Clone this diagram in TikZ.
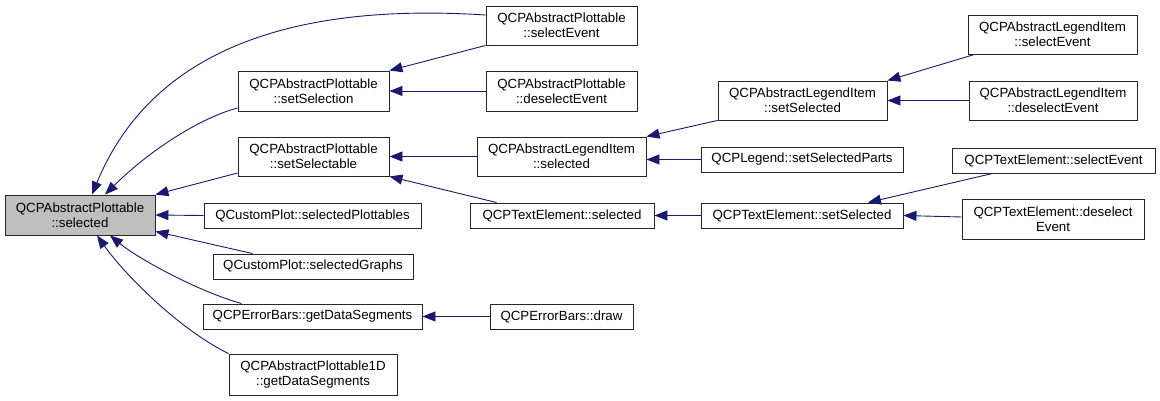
\documentclass[tikz,border=0pt]{standalone}
\usepackage{fontspec}
\setmainfont{Liberation Sans}
\usetikzlibrary{arrows.meta}
\definecolor{edgecol}{HTML}{191970}
\definecolor{maingray}{HTML}{BFBFBF}
\begin{document}
\begin{tikzpicture}[x=1pt,y=-1pt,
  box/.style={draw=black!85,line width=0.9pt,fill=white,rectangle,inner sep=0pt,align=center,
    font=\fontsize{13.3}{15}\selectfont},
  edge/.style={draw=edgecol,line width=0.9pt,-{Triangle[length=13pt,width=10pt]},fill=none}]
\useasboundingbox (0,0) rectangle (1160,401);
% nodes
\node[box,fill=maingray,minimum width=150pt,minimum height=40pt] (main) at (80,215) {QCPAbstractPlottable\\::selected};
\node[box,minimum width=151pt,minimum height=39pt] (apSel) at (561.5,25.5) {QCPAbstractPlottable\\::selectEvent};
\node[box,minimum width=151pt,minimum height=40pt] (setSelection) at (313.5,91) {QCPAbstractPlottable\\::setSelection};
\node[box,minimum width=151pt,minimum height=40pt] (apDesel) at (561.5,91) {QCPAbstractPlottable\\::deselectEvent};
\node[box,minimum width=151pt,minimum height=39pt] (setSelectable) at (313.5,156.5) {QCPAbstractPlottable\\::setSelectable};
\node[box,minimum width=169pt,minimum height=39pt] (liSelected) at (561.5,156.5) {QCPAbstractLegendItem\\::selected};
\node[box,minimum width=217pt,minimum height=25pt] (selPlottables) at (312.5,215.5) {QCustomPlot::selectedPlottables};
\node[box,minimum width=184pt,minimum height=25pt] (teSelected) at (562,215.5) {QCPTextElement::selected};
\node[box,minimum width=200pt,minimum height=25pt] (selGraphs) at (313,266.5) {QCustomPlot::selectedGraphs};
\node[box,minimum width=219pt,minimum height=25pt] (ebGDS) at (312.5,316.5) {QCPErrorBars::getDataSegments};
\node[box,minimum width=143pt,minimum height=25pt] (ebDraw) at (561.5,316.5) {QCPErrorBars::draw};
\node[box,minimum width=168pt,minimum height=41pt] (ap1d) at (313,374.5) {QCPAbstractPlottable1D\\::getDataSegments};
\node[box,minimum width=169pt,minimum height=39pt] (liSetSel) at (802.5,100.5) {QCPAbstractLegendItem\\::setSelected};
\node[box,minimum width=169pt,minimum height=39pt] (liSelEv) at (1052.5,34.5) {QCPAbstractLegendItem\\::selectEvent};
\node[box,minimum width=168pt,minimum height=39pt] (liDesel) at (1053,100.5) {QCPAbstractLegendItem\\::deselectEvent};
\node[box,minimum width=202pt,minimum height=25pt] (legParts) at (802,159.5) {QCPLegend::setSelectedParts};
\node[box,minimum width=203pt,minimum height=25pt] (teSelEv) at (1053.5,160.5) {QCPTextElement::selectEvent};
\node[box,minimum width=202pt,minimum height=25pt] (teSetSel) at (802,215.5) {QCPTextElement::setSelected};
\node[box,minimum width=182pt,minimum height=40pt] (teDesel) at (1053,219) {QCPTextElement::deselect\\Event};
% edges
\draw[edge] ([yshift=10.5pt]apSel.west) .. controls (330,5) and (160,30) .. ([xshift=12pt]main.north);
\draw[edge] ([yshift=-17pt]setSelection.west) .. controls (200,118) and (150,150) .. ([xshift=25pt]main.north);
\draw[edge] ([yshift=-16.5pt]setSelectable.west) -- (main.north east);
\draw[edge] (selPlottables.west) -- (main.east);
\draw[edge] ([xshift=40pt]selGraphs.north west) -- ([yshift=4pt]main.south east);
\draw[edge] ([xshift=39pt]ebGDS.north west) .. controls (200,292) and (140,260) .. ([xshift=30pt]main.south);
\draw[edge] (ap1d.north west) .. controls (180,330) and (125,275) .. ([xshift=17pt]main.south);
\draw[edge] (apSel.south west) -- (setSelection.north east);
\draw[edge] (apDesel.west) -- (setSelection.east);
\draw[edge] (liSelected.west) -- (setSelectable.east);
\draw[edge] ([xshift=27pt]teSelected.north west) -- (setSelectable.south east);
\draw[edge] (liSetSel.south west) -- (liSelected.north east);
\draw[edge] ([xshift=7pt]liSelEv.south west) -- (liSetSel.north east);
\draw[edge] (liDesel.west) -- (liSetSel.east);
\draw[edge] (legParts.west) -- (legParts.west -| liSelected.east);
\draw[edge] (teSetSel.west) -- (teSelected.east);
\draw[edge] ([xshift=41pt]teSelEv.south west) -- ([xshift=66pt]teSetSel.north);
\draw[edge] ([yshift=2pt]teDesel.west) -- (teSetSel.east);
\draw[edge] (ebDraw.west) -- (ebGDS.east);
\end{tikzpicture}
\end{document}
